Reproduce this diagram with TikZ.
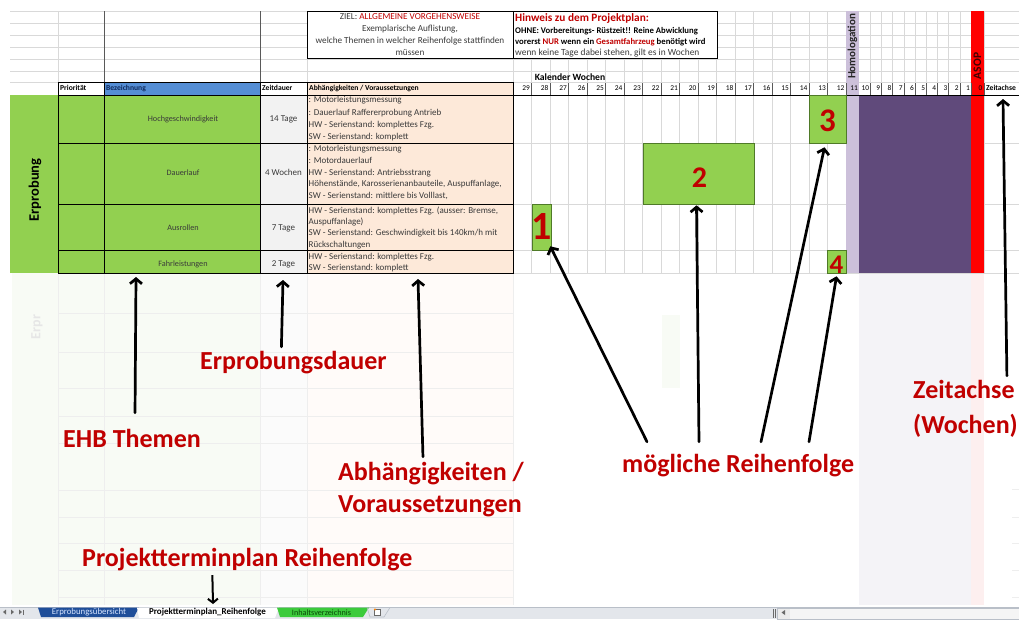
\documentclass[tikz,border=0pt]{standalone}
\usepackage{fontspec}
\setmainfont{Carlito}
\usetikzlibrary{arrows.meta}

\definecolor{gridline}{HTML}{D9D9D9}
\definecolor{darkgrid}{HTML}{595959}
\definecolor{sheetgreen}{HTML}{92D050}
\definecolor{boxedge}{HTML}{4F7A28}
\definecolor{peach}{HTML}{FDE9D9}
\definecolor{palegray}{HTML}{F2F2F2}
\definecolor{headblue}{HTML}{558ED5}
\definecolor{headnavy}{HTML}{102A5C}
\definecolor{plum}{HTML}{604A7B}
\definecolor{lavender}{HTML}{CCC0DA}
\definecolor{asopred}{HTML}{FF0000}
\definecolor{darkred}{HTML}{C00000}
\definecolor{celltext}{HTML}{3A3A3A}
\definecolor{fadegreen}{HTML}{F8FBF5}
\definecolor{fadegray}{HTML}{FBFBFB}
\definecolor{fadepeach}{HTML}{FFFBF9}
\definecolor{fadeplum}{HTML}{F4F3F7}
\definecolor{fadered}{HTML}{FDEFEF}
\definecolor{fadeline}{HTML}{EEEEEE}
\definecolor{fadetext}{HTML}{E6E6E6}
\definecolor{tabbar}{HTML}{E3E6EB}
\definecolor{tabedge}{HTML}{B9BFC8}
\definecolor{tabblue}{HTML}{1F4E99}
\definecolor{tabbluetext}{HTML}{D6E4FF}
\definecolor{tabgreen}{HTML}{3CCB3C}
\definecolor{tabgreentext}{HTML}{0B4A0B}
\definecolor{navgray}{HTML}{6A6A6A}

\newcommand\setsz[2]{\fontsize{#1}{#2}\selectfont}

\tikzset{
  grid/.style={draw=gridline, line width=0.6pt},
  darkrule/.style={draw=darkgrid, line width=0.7pt},
  rule/.style={draw=black, line width=0.8pt},
  fade/.style={draw=fadeline, line width=0.6pt},
  cell/.style={inner sep=0pt, text=celltext, font=\setsz{8.2}{10},
    text height=5.8pt, text depth=1.6pt},
  durcell/.style={cell, font=\setsz{9}{10}},
  abh/.style={cell, anchor=west, font=\setsz{9}{10}},
  headcell/.style={cell, anchor=west, text=black, font=\bfseries\setsz{7.6}{9}},
  weeknum/.style={cell, anchor=east, text=black, font=\setsz{7.4}{9}},
  annot/.style={inner sep=0pt, anchor=base west, text=darkred,
    font=\bfseries\setsz{26}{31}, text height=18pt, text depth=6pt},
  pointer/.style={draw=black, line width=2.7pt, line cap=round,
    -{Straight Barb[length=5pt,width=12pt]}},
  thinpointer/.style={draw=black, line width=2pt,
    -{Straight Barb[length=4pt,width=10pt]}},
  ganttbox/.style={draw=boxedge, line width=0.6pt, fill=sheetgreen, inner sep=0pt},
  order/.style={inner sep=0pt, anchor=base, text=darkred},
  tabtext/.style={inner sep=0pt, font=\setsz{8.8}{10}},
}

\begin{document}
\begin{tikzpicture}[x=1pt,y=-1pt]
\useasboundingbox (0,0) rectangle (1019,619);
\fill[white] (0,0) rectangle (1019,619);

% ---------- faded lower part of the sheet ----------
\fill[fadegreen] (12,273) rectangle (260,605);
\fill[fadegray] (260,273) rectangle (307,605);
\fill[fadepeach] (307,273) rectangle (513,605);
\fill[fadeplum] (859,273) rectangle (971,605);
\fill[fadered] (971,273) rectangle (984,605);
\fill[fadegreen] (662,315) rectangle (680,388);
\foreach \y in {313,352,388,416,443,490,517,543,570,597}
  \draw[fade] (58,\y) -- (513,\y);
\foreach \x in {58,104,260,307,513}
  \draw[fade] (\x,273) -- (\x,605);
\foreach \y in {489,517,543,570,597}
  \draw[fade] (1012,\y) -- (1019,\y);
\node[rotate=90, inner sep=0pt, text=fadetext, font=\bfseries\setsz{14}{16}]
  (erprfade) at (37,327) {Erpr};

% ---------- sheet grid above the table ----------
\foreach \y in {11,23,35,47,59,71}
  \draw[grid] (10,\y) -- (1019,\y);
\draw[grid] (10,82) -- (58,82);
\draw[grid] (513,82) -- (1019,82);
\draw[grid] (58,11) -- (58,82);
\draw[grid] (307,11) -- (307,82);
\draw[darkrule] (104,11) -- (104,82);
\draw[darkrule] (260,11) -- (260,82);

% week columns of the time line
\foreach \k in {0,...,18}
  \draw[grid] ({513+\k*18.5},11) -- ({513+\k*18.5},273);
\foreach \k in {1,...,10}
  \draw[grid] ({859+\k*11.2},11) -- ({859+\k*11.2},273);
\draw[grid] (984,11) -- (984,273);
\foreach \y in {143,204,250,273}
  \draw[grid] (513,\y) -- (1019,\y);

% ---------- cell fills ----------
\fill[sheetgreen] (10,95) rectangle (260,273);
\fill[palegray] (260,95) rectangle (307,273);
\fill[peach] (307,82) rectangle (513,273);
\fill[headblue] (104,82) rectangle (260,95);

% milestones
\fill[lavender] (846,11) rectangle (859,273);
\fill[plum] (859,95) rectangle (971,273);
\fill[asopred] (971,11) rectangle (984,273);

% ---------- table rules ----------
\draw[rule] (58,82) rectangle (513,273);
\foreach \x in {104,260,307}
  \draw[rule] (\x,82) -- (\x,273);
\foreach \y in {95,143,204,250}
  \draw[rule] (58,\y) -- (513,\y);
\draw[rule] (513,95) -- (1019,95);
\foreach \k in {1,...,18}
  \draw[darkrule, line width=0.5pt] ({513+\k*18.5},83) -- ({513+\k*18.5},95);
\foreach \k in {1,...,10}
  \draw[darkrule, line width=0.5pt] ({859+\k*11.2},83) -- ({859+\k*11.2},95);
\draw[darkrule, line width=0.5pt] (984,83) -- (984,95);

% ---------- note boxes ----------
\node[draw=black, line width=1pt, fill=white, inner sep=0pt,
  minimum width=206pt, minimum height=47pt] (ziel) at (410,34.5) {};
\node[inner sep=0pt, align=center, text=celltext, font=\setsz{9.2}{11.7}]
  (zieltext) at (ziel.center)
  {ZIEL: \textcolor{darkred}{ALLGEMEINE VORGEHENSWEISE}\\
   Exemplarische Auflistung,\\
   welche Themen in welcher Reihenfolge stattfinden\\
   müssen};

\node[draw=black, line width=1pt, fill=white, inner sep=0pt,
  minimum width=204pt, minimum height=47pt] (hinweis) at (615,34.5) {};
\node[inner sep=0pt, anchor=west, text=darkred, font=\bfseries\setsz{11.3}{12}]
  (hin1) at (515,18) {Hinweis zu dem Projektplan:};
\node[inner sep=0pt, anchor=west, font=\bfseries\setsz{8.7}{10}]
  (hin2) at (515,31) {OHNE: Vorbereitungs- Rüstzeit!! Reine Abwicklung};
\node[inner sep=0pt, anchor=west, font=\bfseries\setsz{8.7}{10}]
  (hin3) at (515,42) {vorerst \textcolor{darkred}{NUR} wenn ein
   \textcolor{darkred}{Gesamtfahrzeug} benötigt wird};
\node[inner sep=0pt, anchor=west, text=celltext, font=\setsz{9.4}{10}]
  (hin4) at (515,53) {wenn keine Tage dabei stehen, gilt es in Wochen};

\node[inner sep=0pt, font=\bfseries\setsz{9.6}{11}] (kw) at (570,77) {Kalender Wochen};

% ---------- header row ----------
\node[headcell] (hPrio) at (60,88.5) {Priorität};
\node[headcell, text=headnavy] (hBez) at (106,88.5) {Bezeichnung};
\node[headcell] (hZeit) at (262,88.5) {Zeitdauer};
\node[headcell] (hAbh) at (309,88.5) {Abhängigkeiten / Voraussetzungen};
\node[headcell] (hAchse) at (986,88.5) {Zeitachse};
\foreach \w in {12,...,29}
  \node[weeknum] (wk\w) at ({513+(30-\w)*18.5-1.5},88.5) {\w};
\foreach \w in {1,...,10}
  \node[weeknum] (wk\w) at ({859+(11-\w)*11.2-1},88.5) {\w};
\node[weeknum] (wk11) at (858,88.5) {11};
\node[weeknum] (wk0) at (982.5,88.5) {0};

\node[rotate=90, inner sep=0pt, text=black!85, font=\bfseries\setsz{11}{12}]
  (homol) at (852.5,46.5) {Homologation};
\node[rotate=90, inner sep=0pt, text=black!75!red, font=\bfseries\setsz{11.5}{12}]
  (asop) at (977.5,66) {ASOP};

% ---------- test topics ----------
\node[rotate=90, inner sep=0pt, font=\bfseries\setsz{14.5}{16}]
  (erprobung) at (35,190) {Erprobung};

\node[cell] (bez1) at (183,119) {Hochgeschwindigkeit};
\node[cell] (bez2) at (183,173) {Dauerlauf};
\node[cell] (bez3) at (183,228) {Ausrollen};
\node[cell] (bez4) at (183,264) {Fahrleistungen};

\node[durcell] (dur1) at (283.5,119) {14 Tage};
\node[durcell] (dur2) at (283.5,173) {4 Wochen};
\node[durcell] (dur3) at (283.5,228) {7 Tage};
\node[durcell] (dur4) at (283.5,264) {2 Tage};

\node[abh] (a11) at (308.5,100.5) {: Motorleistungsmessung};
\node[abh] (a12) at (308.5,113) {: Dauerlauf Raffererprobung Antrieb};
\node[abh] (a13) at (308.5,125.5) {HW - Serienstand: komplettes Fzg.};
\node[abh] (a14) at (308.5,137.5) {SW - Serienstand: komplett};

\node[abh] (a21) at (308.5,149.5) {: Motorleistungsmessung};
\node[abh] (a22) at (308.5,161) {: Motordauerlauf};
\node[abh] (a23) at (308.5,173) {HW - Serienstand: Antriebsstrang};
\node[abh] (a24) at (308.5,184.5) {Höhenstände, Karosserienanbauteile, Auspuffanlage,};
\node[abh] (a25) at (308.5,196.5) {SW - Serienstand: mittlere bis Volllast,};

\node[abh] (a31) at (308.5,211) {HW - Serienstand: komplettes Fzg. (ausser: Bremse,};
\node[abh] (a32) at (308.5,222.5) {Auspuffanlage)};
\node[abh] (a33) at (308.5,233.5) {SW - Serienstand: Geschwindigkeit bis 140km/h mit};
\node[abh] (a34) at (308.5,245) {Rückschaltungen};

\node[abh] (a41) at (308.5,257.5) {HW - Serienstand: komplettes Fzg.};
\node[abh] (a42) at (308.5,268.5) {SW - Serienstand: komplett};

% ---------- planned order ----------
\node[ganttbox, minimum width=19pt, minimum height=46pt] (box1) at (541.5,227) {};
\node[ganttbox, minimum width=111pt, minimum height=61pt] (box2) at (698.5,173.5) {};
\node[ganttbox, minimum width=37pt, minimum height=48pt] (box3) at (827.5,119) {};
\node[ganttbox, minimum width=19pt, minimum height=23pt] (box4) at (836.5,261.5) {};

\node[order, font=\bfseries\setsz{40}{44}] (n1) at (541.5,239) {1};
\node[order, font=\bfseries\setsz{30}{34}] (n2) at (699.5,187) {2};
\node[order, font=\bfseries\setsz{33}{36}] (n3) at (827.5,131) {3};
\node[order, font=\bfseries\setsz{27}{30}] (n4) at (836.5,273) {4};

% ---------- annotations ----------
\node[annot] (lblDauer) at (200,369) {Erprobungsdauer};
\node[annot] (lblEHB) at (63,447) {EHB Themen};
\node[annot] (lblAbhA) at (338,480) {Abhängigkeiten /};
\node[annot] (lblAbhB) at (338,512) {Voraussetzungen};
\node[annot] (lblFolge) at (622,472) {mögliche Reihenfolge};
\node[annot] (lblAchseA) at (913,398) {Zeitachse};
\node[annot] (lblAchseB) at (913,433) {(Wochen)};
\node[annot] (lblPlan) at (82,566) {Projektterminplan Reihenfolge};

\coordinate (tipEHB) at (136,277);
\coordinate (tipDauer) at (283,280);
\coordinate (tipAbh) at (418,279);
\coordinate (tipAchse) at (1003,99);

\draw[pointer] ([shift={(3,-16)}]lblEHB.north) -- (tipEHB);
\draw[pointer] ([shift={(-12,-4)}]lblDauer.north) -- (tipDauer);
\draw[pointer] ([shift={(-8,-5)}]lblAbhA.north) -- (tipAbh);
\draw[pointer] ([shift={(43,-4)}]lblAchseA.north) -- (tipAchse);

\draw[pointer] ([shift={(25,-12)}]lblFolge.north west) -- ([shift={(-1,-4)}]box1.south east);
\draw[pointer] ([shift={(77,-12)}]lblFolge.north west) -- ([shift={(-2,1)}]box2.south);
\draw[pointer] ([shift={(139,-12)}]lblFolge.north west) -- ([shift={(-3,4)}]box3.south);
\draw[pointer] ([shift={(187,-12)}]lblFolge.north west) -- ([shift={(0,3)}]box4.south);

% ---------- sheet tabs ----------
\fill[tabbar] (0,607) rectangle (1019,619);
\draw[tabedge, line width=0.6pt] (0,607.5) -- (1019,607.5);
\fill[navgray] (6,609.5) -- (6,614.5) -- (3,612) -- cycle;
\fill[navgray] (11,609.5) -- (11,614.5) -- (14,612) -- cycle;
\fill[navgray] (19,609.5) -- (19,614.5) -- (22,612) -- cycle;
\draw[navgray, line width=0.6pt] (23.5,609.5) -- (23.5,614.5);

\fill[tabblue] (38,607.5) -- (41,617) -- (134,617) -- (139,607.5) -- cycle;
\fill[white] (137,607.5) -- (139,618) -- (275,618) -- (279,607.5) -- cycle;
\fill[tabgreen] (277,607.5) -- (280,617) -- (363,617) -- (369,607.5) -- cycle;
\draw[tabedge, line width=0.6pt] (367,607.5) -- (370,617) -- (384,617) -- (390,607.5);
\node[draw=navgray, fill=white, line width=0.5pt, inner sep=0pt,
  minimum width=6pt, minimum height=6pt] (newtab) at (377,612) {};
\fill[orange] (375,609.5) circle (1.2pt);

\node[tabtext, text=tabbluetext] (tabA) at (89,612.3) {Erprobungsübersicht};
\node[tabtext, text=black, font=\bfseries\setsz{9}{10}] (tabB) at (207.5,612.3)
  {Projektterminplan\_Reihenfolge};
\node[tabtext, text=tabgreentext, font=\setsz{8.2}{10}] (tabC) at (321.5,612.3)
  {Inhaltsverzeichnis};

\coordinate (tabTarget) at (213,604);
\draw[thinpointer] ([shift={(-35,3)}]lblPlan.south) -- (tabTarget);

% horizontal scroll bar
\draw[navgray, line width=0.5pt] (773,609) -- (773,618) (775,609) -- (775,618);
\fill[white!92!black] (777,608) rectangle (790,619);
\fill[navgray] (785,610) -- (785,615) -- (781.5,612.5) -- cycle;
\fill[white!96!black] (790,608) rectangle (1019,619);
\draw[tabedge, line width=0.5pt] (777,608) rectangle (1019,619);
\end{tikzpicture}
\end{document}
